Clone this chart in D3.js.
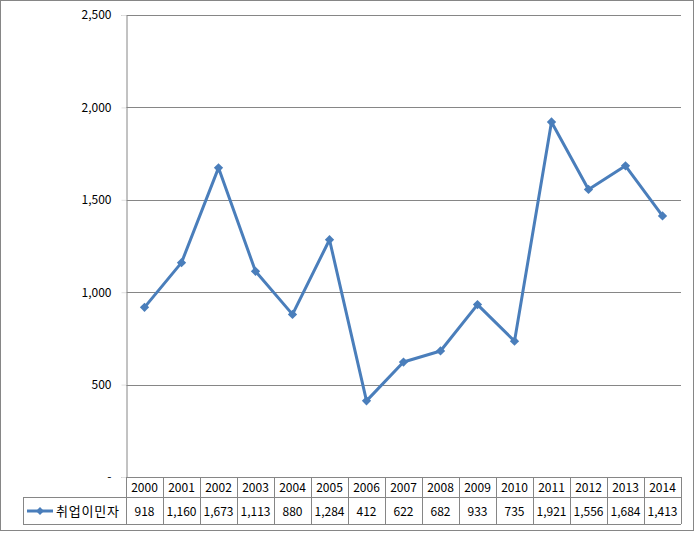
<!DOCTYPE html>
<html>
<head>
<meta charset="utf-8">
<script src="https://cdn.jsdelivr.net/npm/d3@7"></script>
<style>
  body { margin: 0; background: #fff; }
  text { font-family: "Noto Sans CJK KR", "Open Sans", sans-serif; font-size: 12px; fill: #000; }
</style>
</head>
<body>
<svg id="chart" width="696" height="533"></svg>
<script>
// data
const years = ["2000","2001","2002","2003","2004","2005","2006","2007","2008","2009","2010","2011","2012","2013","2014"];
const values = [918, 1160, 1673, 1113, 880, 1284, 412, 622, 682, 933, 735, 1921, 1556, 1684, 1413];
const seriesName = "취업이민자";
const yTicks = [0, 500, 1000, 1500, 2000, 2500];

const svg = d3.select("#chart");
const grid = "#868686";
const blue = "#4a7ebb";

// outer frame
svg.append("rect")
    .attr("x", 0.5).attr("y", 0.5)
    .attr("width", 693).attr("height", 530)
    .attr("fill", "#fff")
    .attr("stroke", grid);

// plot area
const plotL = 126, plotR = 681, plotT = 15, plotB = 477;

const x = d3.scaleBand().domain(years).range([plotL, plotR]);
const y = d3.scaleLinear().domain([0, 2500]).range([plotB, plotT]);

const fmt = d3.format(",");

// gridlines
svg.append("g").selectAll("line")
    .data(yTicks.filter(d => d > 0))
    .join("line")
    .attr("x1", plotL).attr("x2", plotR)
    .attr("y1", d => Math.round(y(d)) + 0.5)
    .attr("y2", d => Math.round(y(d)) + 0.5)
    .attr("stroke", grid);

// y axis
const yAxis = svg.append("g")
    .attr("transform", "translate(" + (plotL + 0.5) + ",0)")
    .call(d3.axisLeft(y).tickValues(yTicks).tickSize(5).tickPadding(10)
        .tickFormat(d => d === 0 ? "-" : fmt(d)));
yAxis.select(".domain").attr("stroke", grid);
yAxis.selectAll(".tick line").attr("stroke", "#e0e0e0");
yAxis.selectAll("text").style("font-size", "12px").attr("fill", "#000")
    .attr("font-family", "\"Noto Sans CJK KR\", sans-serif");

// table
const colW = x.bandwidth();
const table = svg.append("g");
const rowTop = 477, rowMid = 497, rowBot = 524;

// horizontal lines
table.append("line").attr("x1", plotL).attr("x2", plotR)
    .attr("y1", rowTop + 0.5).attr("y2", rowTop + 0.5).attr("stroke", grid);
table.append("line").attr("x1", 23).attr("x2", plotR)
    .attr("y1", rowMid + 0.5).attr("y2", rowMid + 0.5).attr("stroke", grid);
table.append("line").attr("x1", 23).attr("x2", plotR)
    .attr("y1", rowBot + 0.5).attr("y2", rowBot + 0.5).attr("stroke", grid);
// vertical lines
table.append("line").attr("x1", 23.5).attr("x2", 23.5)
    .attr("y1", rowMid).attr("y2", rowBot).attr("stroke", grid);
table.selectAll("line.col")
    .data(years.concat(["end"]))
    .join("line")
    .attr("class", "col")
    .attr("x1", (d, i) => Math.round(plotL + i * colW) + 0.5)
    .attr("x2", (d, i) => Math.round(plotL + i * colW) + 0.5)
    .attr("y1", rowTop).attr("y2", rowBot)
    .attr("stroke", grid);

// header years
table.selectAll("text.yr")
    .data(years)
    .join("text")
    .attr("class", "yr")
    .attr("x", d => x(d) + colW / 2)
    .attr("y", (rowTop + rowMid) / 2 + 4.5)
    .attr("text-anchor", "middle")
    .text(d => d);

// values row
table.selectAll("text.val")
    .data(values)
    .join("text")
    .attr("class", "val")
    .attr("x", (d, i) => x(years[i]) + colW / 2)
    .attr("y", (rowMid + rowBot) / 2 + 5)
    .attr("text-anchor", "middle")
    .text(d => fmt(d));

// legend key in table
const ly = (rowMid + rowBot) / 2 + 0.5;
table.append("line").attr("x1", 27).attr("x2", 53)
    .attr("y1", ly).attr("y2", ly)
    .attr("stroke", blue).attr("stroke-width", 3);
table.append("path")
    .attr("d", d3.symbol(d3.symbolDiamond2, 40)())
    .attr("transform", "translate(40," + ly + ")")
    .attr("fill", blue);
table.append("text")
    .attr("x", 56).attr("y", ly + 5)
    .style("font-size", "13px")
    .style("letter-spacing", "0.8px")
    .text(seriesName);

// series line
const line = d3.line()
    .x((d, i) => x(years[i]) + colW / 2)
    .y(d => y(d));

svg.append("path")
    .datum(values)
    .attr("d", line)
    .attr("fill", "none")
    .attr("stroke", blue)
    .attr("stroke-width", 3)
    .attr("stroke-linejoin", "round");

svg.append("g").selectAll("path")
    .data(values)
    .join("path")
    .attr("d", d3.symbol(d3.symbolDiamond2, 55)())
    .attr("transform", (d, i) => "translate(" + (x(years[i]) + colW / 2) + "," + y(d) + ")")
    .attr("fill", blue);
</script>
</body>
</html>
